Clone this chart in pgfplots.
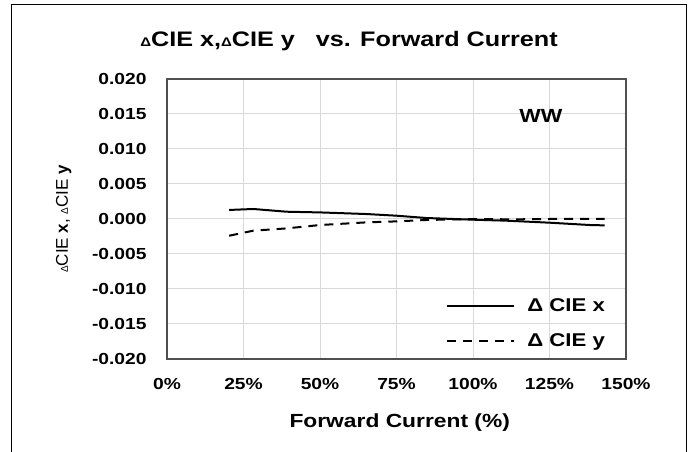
\documentclass[border=0pt]{standalone}
\usepackage{fontspec}
\setmainfont{Liberation Sans}[FakeStretch=1.2]
\newfontfamily\plainfont{Liberation Sans}
\usepackage{pgfplots}
\pgfplotsset{compat=1.18}
\definecolor{gridc}{RGB}{217,217,217}
\definecolor{framec}{RGB}{80,80,80}
\begin{document}
\begin{tikzpicture}[x=1pt,y=1pt]
\useasboundingbox (0,0) rectangle (694,452);
\draw[black,line width=1pt] (11,-2) -- (11,447) -- (686,447) -- (686,-2);
\begin{axis}[
  at={(167pt,93pt)}, anchor=south west,
  scale only axis, width=459pt, height=280pt,
  xmin=0, xmax=150, ymin=-0.02, ymax=0.02,
  scaled y ticks=false, scaled x ticks=false,
  xtick={0,25,50,75,100,125,150},
  xticklabels={0\%,25\%,50\%,75\%,100\%,125\%,150\%},
  ytick={-0.02,-0.015,-0.01,-0.005,0,0.005,0.01,0.015,0.02},
  yticklabels={-0.020,-0.015,-0.010,-0.005,0.000,0.005,0.010,0.015,0.020},
  major tick length=0pt,
  grid=major,
  major grid style={gridc, line width=1pt},
  axis line style={framec, line width=1.3pt},
  ticklabel style={font=\fontsize{16}{18}\selectfont\bfseries},
  yticklabel style={xshift=-17pt},
  xticklabel style={yshift=-16pt},
  title={{\fontsize{12.5}{12}\selectfont Δ}CIE x,{\fontsize{12.5}{12}\selectfont Δ}CIE y \ \ vs. Forward Current},
  title style={at={(rel axis cs:0.3965,1.096)}, anchor=base, font=\fontsize{21}{23}\selectfont\bfseries},
  xlabel={Forward Current (\%)},
  xlabel style={at={(rel axis cs:0.507,-0.246)}, anchor=base, font=\fontsize{19}{21}\selectfont\bfseries},
  ylabel={{\fontsize{10}{10}\selectfont Δ}CIE \textbf{x}, {\fontsize{10}{10}\selectfont Δ}CIE \textbf{y}},
  ylabel style={at={(rel axis cs:-0.2157,0.5)}, anchor=base, rotate=0, font=\plainfont\fontsize{17}{19}\selectfont},
  legend style={draw=none, fill=none, at={(rel axis cs:0.608,0.222)}, anchor=north west,
    font=\fontsize{18.5}{20}\selectfont\bfseries, row sep=16pt, inner sep=0pt,
    /tikz/every odd column/.append style={column sep=10pt}},
  legend cell align=left,
  legend image code/.code={\draw[#1] (0pt,0pt) -- (67pt,0pt);},
  clip=false,
]
\addplot[black, line width=2pt] coordinates {
 (20.3,0.00129) (28.2,0.00143) (39.1,0.00104) (50,0.00094) (65.2,0.00071)
 (75,0.00047) (84.8,0.00014) (100,-0.0001) (110.9,-0.00024) (125.1,-0.00053)
 (138.2,-0.00086) (143,-0.00091)};
\addlegendentry{Δ CIE x}
\addplot[black, line width=2pt, dash pattern=on 9pt off 7pt] coordinates {
 (20.3,-0.00239) (28.2,-0.00167) (39.1,-0.00134) (50,-0.00086) (65.2,-0.00048)
 (75,-0.00034) (84.8,-0.00014) (100,0) (113,-0.00005) (125.1,0) (143,0)};
\addlegendentry{Δ CIE y}
\node[font=\fontsize{19}{21}\selectfont\bfseries] at (axis cs:122.2,0.0147) {WW};
\end{axis}
\end{tikzpicture}
\end{document}
